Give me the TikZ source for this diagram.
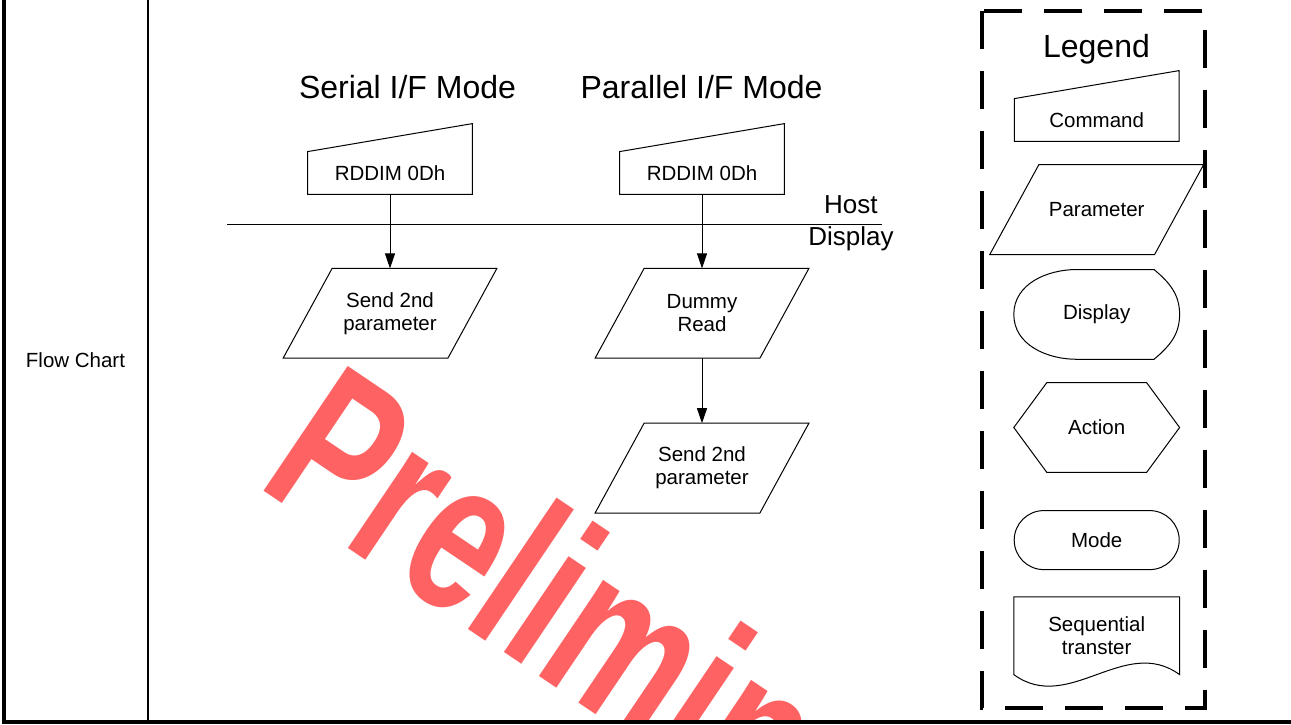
\documentclass[tikz,border=0pt]{standalone}
\usepackage{fontspec}
\setmainfont{Liberation Sans}
\usepackage{tikz}
\usetikzlibrary{
  arrows.meta,
  positioning,
  calc
}
\definecolor{wmred}{RGB}{255, 98, 98}
\tikzset{
  body/.style = {
    font=\fontsize{10.25pt}{11.5pt}\selectfont,
    align=center, inner sep=0pt
  },
  modetitle/.style = {font=\fontsize{16pt}{18pt}\selectfont, inner sep=0pt},
  sidelbl/.style = {font=\fontsize{13pt}{15pt}\selectfont, inner sep=0pt},
  cmdbox/.style = {body, rectangle, minimum width=82pt, minimum height=21pt},
  parambox/.style = {body, rectangle, minimum width=82pt, minimum height=44.5pt},
  dispbox/.style = {body, rectangle, minimum width=82.5pt, minimum height=44.5pt},
  actbox/.style = {body, rectangle, minimum width=82.5pt, minimum height=44.5pt},
  modebox/.style = {
    body, rectangle, draw, line width=0.5pt, rounded corners=14.75pt,
    minimum width=82.5pt, minimum height=29.5pt
  },
  docbox/.style = {body, rectangle, minimum width=82.5pt, minimum height=38.5pt},
  shapeline/.style = {draw=black, line width=0.5pt},
  arr/.style = {-{Triangle[width=5pt, length=7.5pt]}, line width=0.5pt},
  sepline/.style = {line width=0.5pt},
  tableline/.style = {line width=2pt},
  divider/.style = {line width=1pt},
  legbox/.style = {draw, line width=2.2pt, dash pattern=on 19pt off 11pt},
  wmark/.style = {
    font=\fontsize{76.5pt}{76.5pt}\bfseries\selectfont, text=wmred,
    inner sep=0pt, anchor=base west, rotate=-34, yscale=1.43
  },
}
% outlines of the flow chart symbols
\newcommand{\drawcmd}[1]{%
  \draw[shapeline] (#1.south west) -- (#1.south east)
    -- ([yshift=14pt]#1.north east) -- (#1.north west) -- cycle;}
\newcommand{\drawparam}[1]{%
  \draw[shapeline] ([xshift=12.25pt]#1.north west) -- ([xshift=12.25pt]#1.north east)
    -- ([xshift=-12.25pt]#1.south east) -- ([xshift=-12.25pt]#1.south west) -- cycle;}
\newcommand{\drawdisp}[1]{%
  \draw[shapeline] ([xshift=-9.85pt]#1.north) -- ([xshift=28.65pt]#1.north)
    to[out=-40, in=90] (#1.east) to[out=-90, in=40] ([xshift=28.65pt]#1.south)
    -- ([xshift=-9.85pt]#1.south) to[out=180, in=-90] (#1.west)
    to[out=90, in=180] ([xshift=-9.85pt]#1.north) -- cycle;}
\newcommand{\drawaction}[1]{%
  \draw[shapeline] ([xshift=16.5pt]#1.north west) -- ([xshift=-16.5pt]#1.north east)
    -- (#1.east) -- ([xshift=-16.5pt]#1.south east) -- ([xshift=16.5pt]#1.south west)
    -- (#1.west) -- cycle;}
\newcommand{\drawdoc}[1]{%
  \draw[shapeline] (#1.north west) -- (#1.south west)
    .. controls ([xshift=27.5pt, yshift=-20pt]#1.south west)
    and ([xshift=-27.5pt, yshift=20pt]#1.south east) .. (#1.south east)
    -- (#1.north east) -- cycle;}

\begin{document}
\begin{tikzpicture}[x=0.5pt, y=-0.5pt]
  \useasboundingbox (0,0) rectangle (1291,724);

  % Watermark
  \begin{scope}
    \clip (149,0) rectangle (1291,719);
    \node[wmark] (wm) at (255,485) {Preliminary};
  \end{scope}

  % Table frame
  \draw[tableline] (3.7,0) -- (3.7,721.5) -- (1291,721.5);
  \draw[divider] (147.7,0) -- (147.7,720);
  \node[body, anchor=base] (fc) at (75.5,367) {Flow Chart};

  % Mode titles
  \node[modetitle, anchor=base] (sertitle) at (407.5,98) {Serial I/F Mode};
  \node[modetitle, anchor=base] (partitle) at (701.5,98) {Parallel I/F Mode};

  % Host / display border
  \coordinate (sepL) at (227,224);
  \coordinate (sepR) at (882,224);
  \draw[sepline] (sepL) -- (sepR);
  \node[sidelbl, anchor=base east] (host) at (878,213) {Host};
  \node[sidelbl, anchor=base east] (disp) at (894,245) {Display};

  % Serial column
  \node[cmdbox] (cmd1) at (390,173) {RDDIM 0Dh};
  \node[parambox, below=37pt of cmd1] (send1) {Send 2nd\\parameter};
  \drawcmd{cmd1}
  \drawparam{send1}
  \draw[arr] (cmd1) -- (send1);

  % Parallel column
  \node[cmdbox] (cmd2) at (702,173) {RDDIM 0Dh};
  \node[parambox, below=37pt of cmd2] (dummy) {Dummy\\Read};
  \node[parambox, below=32.5pt of dummy] (send2) {Send 2nd\\parameter};
  \drawcmd{cmd2}
  \drawparam{dummy}
  \drawparam{send2}
  \draw[arr] (cmd2) -- (dummy);
  \draw[arr] (dummy) -- (send2);

  % Legend (right)
  \draw[legbox] (982,11) rectangle (1205,708);
  \node[modetitle, anchor=base] (leg) at (1096.5,57) {Legend};
  \node[cmdbox] (lcmd) at (1096.7,120) {Command};
  \node[parambox, below=11.65pt of lcmd] (lparam) {Parameter};
  \node[dispbox, below=7.5pt of lparam] (ldisp) {Display};
  \node[actbox, below=11.65pt of ldisp] (lact) {Action};
  \node[modebox, below=18.85pt of lact] (lmode) {Mode};
  \node[docbox, below=13.35pt of lmode] (ldoc) {Sequential\\transter};
  \drawcmd{lcmd}
  \drawparam{lparam}
  \drawdisp{ldisp}
  \drawaction{lact}
  \drawdoc{ldoc}

\end{tikzpicture}
\end{document}
